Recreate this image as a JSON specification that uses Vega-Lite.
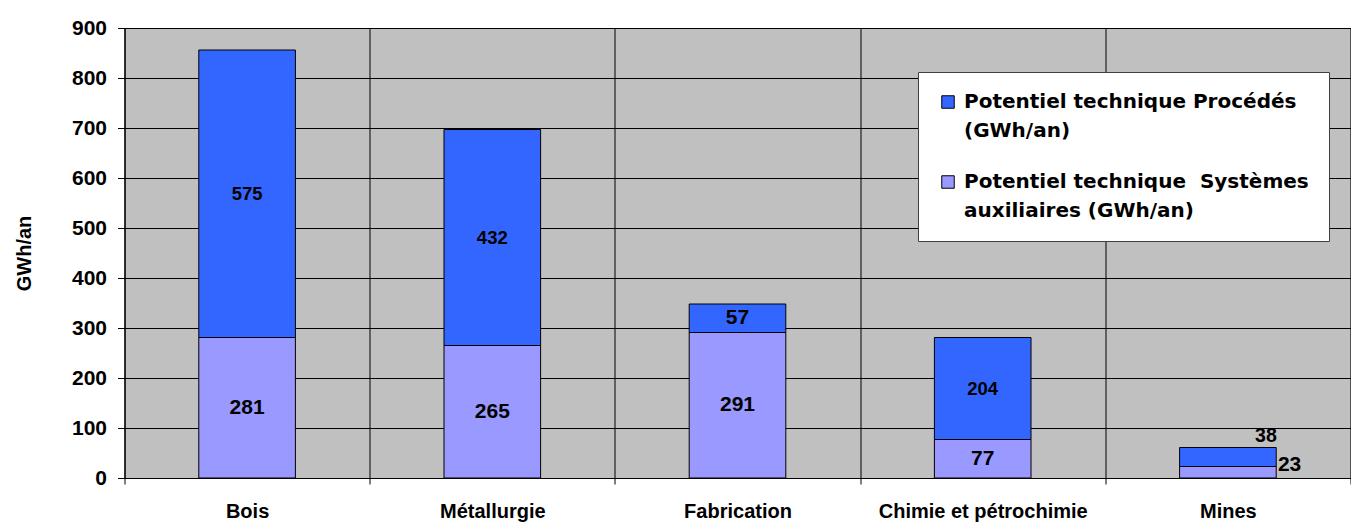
{
  "$schema": "https://vega.github.io/schema/vega-lite/v6.json",
  "width": 1226,
  "height": 450,
  "autosize": {"type": "none"},
  "padding": {"left": 124.5, "top": 28, "right": 0, "bottom": 49},
  "background": "white",
  "config": {
    "font": "Liberation Sans",
    "view": {"fill": "#C0C0C0", "stroke": "#808080", "strokeWidth": 1},
    "style": {"guide-label": {"lineHeight": 29}},
    "axis": {
      "labelFont": "Liberation Sans",
      "labelFontWeight": "bold",
      "labelColor": "black",
      "titleFont": "Liberation Sans",
      "titleColor": "black",
      "domainColor": "black",
      "tickColor": "black",
      "gridColor": "black",
      "gridOpacity": 1,
      "domainWidth": 1,
      "tickWidth": 1,
      "gridWidth": 1
    }
  },
  "data": {
    "values": [
      {"categorie": "Bois", "serie": "Potentiel technique Procédés (GWh/an)", "valeur": 575},
      {"categorie": "Bois", "serie": "Potentiel technique Systèmes auxiliaires (GWh/an)", "valeur": 281},
      {"categorie": "Métallurgie", "serie": "Potentiel technique Procédés (GWh/an)", "valeur": 432},
      {"categorie": "Métallurgie", "serie": "Potentiel technique Systèmes auxiliaires (GWh/an)", "valeur": 265},
      {"categorie": "Fabrication", "serie": "Potentiel technique Procédés (GWh/an)", "valeur": 57},
      {"categorie": "Fabrication", "serie": "Potentiel technique Systèmes auxiliaires (GWh/an)", "valeur": 291},
      {"categorie": "Chimie et pétrochimie", "serie": "Potentiel technique Procédés (GWh/an)", "valeur": 204},
      {"categorie": "Chimie et pétrochimie", "serie": "Potentiel technique Systèmes auxiliaires (GWh/an)", "valeur": 77},
      {"categorie": "Mines", "serie": "Potentiel technique Procédés (GWh/an)", "valeur": 38},
      {"categorie": "Mines", "serie": "Potentiel technique Systèmes auxiliaires (GWh/an)", "valeur": 23}
    ]
  },
  "encoding": {
    "x": {
      "field": "categorie",
      "type": "nominal",
      "sort": ["Bois", "Métallurgie", "Fabrication", "Chimie et pétrochimie", "Mines"],
      "scale": {"paddingInner": 0, "paddingOuter": 0},
      "axis": {
        "title": null,
        "labelAngle": 0,
        "labelFontSize": 20,
        "labelLimit": 400,
        "tickBand": "extent",
        "tickSize": 6,
        "labelPadding": 17,
        "grid": true
      }
    }
  },
  "layer": [
    {
      "mark": {"type": "bar", "width": {"band": 0.394}, "stroke": "black", "strokeWidth": 1},
      "encoding": {
        "y": {
          "field": "valeur",
          "type": "quantitative",
          "title": "GWh/an",
          "scale": {"domain": [0, 900], "nice": false},
          "axis": {
            "values": [0, 100, 200, 300, 400, 500, 600, 700, 800, 900],
            "grid": true,
            "tickSize": 7,
            "labelPadding": 11,
            "labelFontSize": 21,
            "titleFontSize": 20,
            "titleFontWeight": "bold",
            "titlePadding": 37
          }
        },
        "color": {
          "field": "serie",
          "type": "nominal",
          "scale": {
            "domain": ["Potentiel technique Procédés (GWh/an)", "Potentiel technique Systèmes auxiliaires (GWh/an)"],
            "range": ["#3366FF", "#9999FF"]
          },
          "legend": {
            "title": null,
            "orient": "none",
            "legendX": 793.5,
            "legendY": 44,
            "fillColor": "white",
            "strokeColor": "#404040",
            "padding": 20,
            "labelFont": "DejaVu Sans",
            "labelFontSize": 20,
            "labelFontWeight": "bold",
            "labelColor": "black",
            "labelLimit": 600,
            "labelOffset": 6,
            "rowPadding": 31,
            "symbolType": "square",
            "symbolSize": 156,
            "symbolStrokeColor": "black",
            "symbolStrokeWidth": 1,
            "labelExpr": "datum.value == 'Potentiel technique Procédés (GWh/an)' ? ['Potentiel technique Procédés', '(GWh/an)'] : ['Potentiel technique\u00a0 Systèmes', 'auxiliaires (GWh/an)']"
          }
        },
        "order": {"field": "serie", "sort": "descending"}
      }
    },
    {
      "transform": [{"filter": "datum.categorie != 'Mines'"}],
      "mark": {"type": "text", "font": "Liberation Sans", "fontWeight": "bold", "color": "black", "baseline": "middle"},
      "encoding": {
        "y": {"field": "valeur", "type": "quantitative", "title": "GWh/an", "stack": "zero", "bandPosition": 0.5},
        "detail": {"field": "serie"},
        "order": {"field": "serie", "sort": "descending"},
        "text": {"field": "valeur", "type": "quantitative"},
        "size": {
          "condition": {"test": "datum.serie == 'Potentiel technique Procédés (GWh/an)' && datum.valeur > 100", "value": 18.5},
          "value": 21
        }
      }
    },
    {
      "transform": [
        {"stack": "valeur", "groupby": ["categorie"], "sort": [{"field": "serie", "order": "descending"}], "as": ["bas", "haut"]},
        {"filter": "datum.categorie == 'Mines' && datum.serie == 'Potentiel technique Procédés (GWh/an)'"}
      ],
      "mark": {"type": "text", "font": "Liberation Sans", "fontWeight": "bold", "fontSize": 19.5, "color": "black", "baseline": "bottom", "dx": 38, "dy": -2},
      "encoding": {
        "y": {"field": "haut", "type": "quantitative", "title": "GWh/an"},
        "text": {"field": "valeur", "type": "quantitative"}
      }
    },
    {
      "transform": [
        {"stack": "valeur", "groupby": ["categorie"], "sort": [{"field": "serie", "order": "descending"}], "as": ["bas", "haut"]},
        {"filter": "datum.categorie == 'Mines' && datum.serie == 'Potentiel technique Systèmes auxiliaires (GWh/an)'"}
      ],
      "mark": {"type": "text", "font": "Liberation Sans", "fontWeight": "bold", "fontSize": 21, "color": "black", "align": "left", "baseline": "middle", "dx": 50, "dy": -2},
      "encoding": {
        "y": {"field": "haut", "type": "quantitative", "title": "GWh/an"},
        "text": {"field": "valeur", "type": "quantitative"}
      }
    }
  ]
}
